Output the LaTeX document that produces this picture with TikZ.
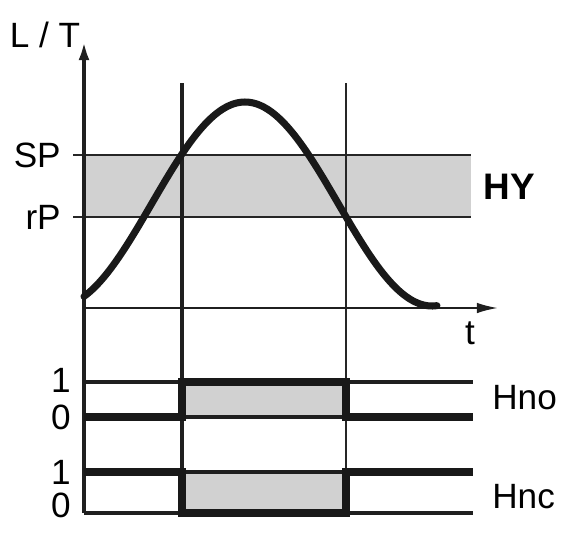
\documentclass[tikz,border=0pt]{standalone}
\usepackage{fontspec}
\setmainfont{Liberation Sans}
\usetikzlibrary{arrows.meta}

\begin{document}
\begin{tikzpicture}[
		lbl/.style={inner sep=0pt, font=\fontsize{20}{24}\selectfont},
		thinline/.style={line width=1.1pt, draw=black!85},
		sigthin/.style={line width=1.8pt, draw=black!88},
		sigthick/.style={line width=4.6pt, draw=black!90, line join=miter},
		band/.style={fill=black!18},
		axis/.style={line width=2.4pt, draw=black!88, -{Latex[length=12pt,width=6pt]}}
	]
		\useasboundingbox (0,0) rectangle (11.4,10.64);
		% gray areas
		\fill [band] (1.68,6.30) rectangle (9.42,7.54);
		\fill [band] (3.64,2.30) rectangle (6.92,3.00);
		\fill [band] (3.64,0.38) rectangle (6.92,1.20);
		% set point / reset point
		\draw [thinline] (1.46,7.54) -- (9.42,7.54);
		\draw [thinline] (1.46,6.30) -- (9.42,6.30);
		\node [lbl, anchor=east] (sp) at (1.22,7.54) {SP};
		\node [lbl, anchor=east] (rp) at (1.22,6.30) {rP};
		\node [lbl, anchor=west, font=\fontsize{21}{24}\selectfont\bfseries] (hy) at (9.66,6.90) {HY};
		% switching instants
		\draw [line width=1.9pt, draw=black!88] (3.64,8.98) -- (3.64,0.38);
		\draw [thinline] (6.92,8.98) -- (6.92,0.38);
		% axes
		\draw [axis, line width=1.2pt] (1.68,4.48) -- (9.96,4.48);
		\node [lbl] (t) at (9.40,3.98) {t};
		\draw [axis] (1.68,0.38) -- (1.68,9.86);
		\node [lbl, anchor=base] (lt) at (0.9,9.70) {L / T};
		% level curve
		\draw [line width=4pt, draw=black!90, line cap=round]
			plot [domain=1.68:8.74, samples=80, smooth] (\x, {4.52+2.04*(1+cos(180*(\x-4.90)/3.74))});
		% Hno output
		\draw [sigthin] (1.68,3.00) -- (9.46,3.00);
		\draw [sigthin] (1.68,2.30) -- (9.46,2.30);
		\draw [sigthick] (1.68,2.30) -- (3.64,2.30) -- (3.64,3.00) -- (6.92,3.00) -- (6.92,2.30) -- (9.46,2.30);
		\node [lbl] (no1) at (1.22,3.04) {1};
		\node [lbl] (no0) at (1.22,2.30) {0};
		\node [lbl, anchor=west] (hno) at (9.84,2.68) {Hno};
		% Hnc output
		\draw [sigthin] (1.68,1.20) -- (9.46,1.20);
		\draw [sigthin] (1.68,0.38) -- (9.46,0.38);
		\draw [sigthick] (1.68,1.20) -- (3.64,1.20) -- (3.64,0.38) -- (6.92,0.38) -- (6.92,1.20) -- (9.46,1.20);
		\node [lbl] (nc1) at (1.22,1.20) {1};
		\node [lbl] (nc0) at (1.22,0.54) {0};
		\node [lbl, anchor=west] (hnc) at (9.84,0.70) {Hnc};
	\end{tikzpicture}
\end{document}
